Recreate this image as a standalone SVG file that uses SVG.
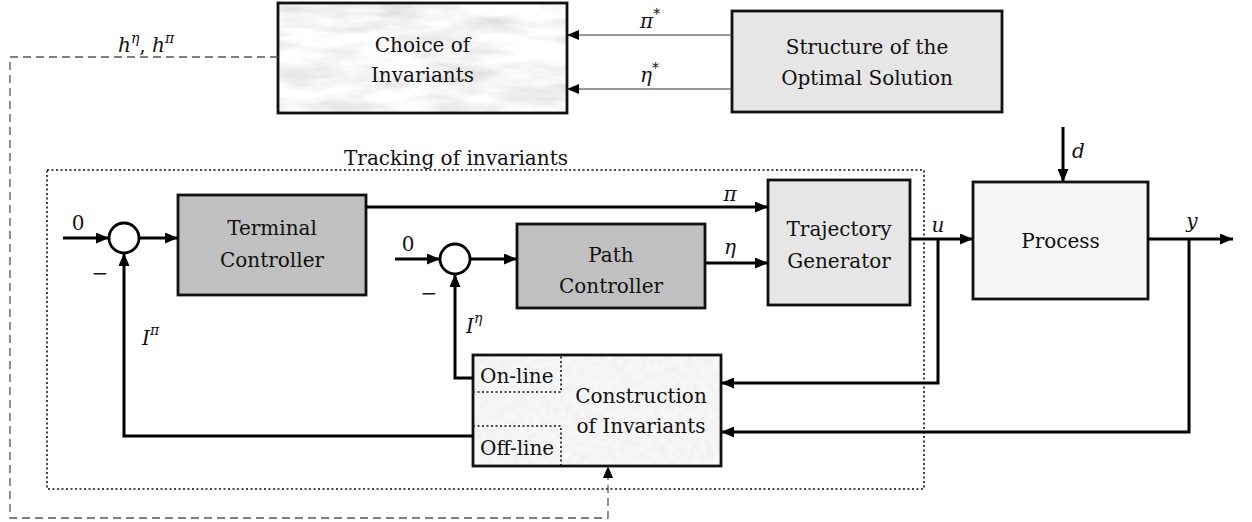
<svg xmlns="http://www.w3.org/2000/svg" width="1252" height="522" viewBox="0 0 1252 522" font-family="'DejaVu Serif', 'Liberation Serif', serif">
<style>
  text { font-family: "DejaVu Serif", "Liberation Serif", serif; font-size: 20px; fill: #111; }
  .c { text-anchor: middle; }
  .m { font-style: italic; }
  .sup { font-size: 14px; }
  .box { stroke: #111; stroke-width: 2.8; }
  .wire { fill: none; stroke: #000; stroke-width: 3; }
  .thin { fill: none; stroke: #333; stroke-width: 1.2; }
  .dash { fill: none; stroke: #555; stroke-width: 1.3; stroke-dasharray: 8 5; }
  .dot { fill: none; stroke: #111; stroke-width: 1.6; stroke-dasharray: 2 2.5; }
</style>
<defs>
  <marker id="ah" markerUnits="userSpaceOnUse" markerWidth="14" markerHeight="11" refX="13" refY="5.5" orient="auto">
    <path d="M0,0 L13,5.5 L0,11 z" fill="#000"/>
  </marker>
  <marker id="ahs" markerUnits="userSpaceOnUse" markerWidth="13" markerHeight="10" refX="12" refY="5" orient="auto">
    <path d="M0,0 L12,5 L0,10 z" fill="#000"/>
  </marker>
  <filter id="marble" x="0" y="0" width="100%" height="100%">
    <feTurbulence type="fractalNoise" baseFrequency="0.014 0.06" numOctaves="4" seed="7" result="n"/>
    <feColorMatrix in="n" type="matrix" values="0.6 0 0 0 0.62  0.6 0 0 0 0.62  0.6 0 0 0 0.62  0 0 0 0 1" result="g"/>
    <feComposite in="g" in2="SourceGraphic" operator="in"/>
  </filter>
  <filter id="speck" x="0" y="0" width="100%" height="100%">
    <feTurbulence type="fractalNoise" baseFrequency="0.15" numOctaves="2" seed="2" result="n"/>
    <feColorMatrix in="n" type="matrix" values="0.12 0 0 0 0.85  0.12 0 0 0 0.85  0.12 0 0 0 0.85  0 0 0 0 1" result="g"/>
    <feComposite in="g" in2="SourceGraphic" operator="in"/>
  </filter>
</defs>

<g id="tracking">
  <rect class="dot" x="47" y="170" width="877" height="319"/>
  <text class="c" x="456" y="165">Tracking of invariants</text>
</g>

<g id="choice">
  <rect x="278" y="3" width="289" height="110" fill="#eee" filter="url(#marble)"/>
  <rect class="box" x="278" y="3" width="289" height="110" fill="none"/>
  <text class="c" x="422.5" y="52">Choice of</text>
  <text class="c" x="422.5" y="82">Invariants</text>
</g>

<g id="structure">
  <rect class="box" x="732" y="11" width="270" height="101" fill="#e6e6e6"/>
  <text class="c" x="867" y="54">Structure of the</text>
  <text class="c" x="867" y="85">Optimal Solution</text>
</g>

<g id="sum1">
  <circle cx="124" cy="238" r="15" fill="#fff" stroke="#000" stroke-width="2.8"/>
</g>

<g id="terminal">
  <rect class="box" x="178" y="195" width="188" height="100" fill="#c0c0c0"/>
  <text class="c" x="272" y="235">Terminal</text>
  <text class="c" x="272" y="267">Controller</text>
</g>

<g id="sum2">
  <circle cx="455" cy="259" r="15" fill="#fff" stroke="#000" stroke-width="2.8"/>
</g>

<g id="path">
  <rect class="box" x="517" y="224" width="188" height="84" fill="#c0c0c0"/>
  <text class="c" x="611" y="262">Path</text>
  <text class="c" x="611" y="293">Controller</text>
</g>

<g id="trajectory">
  <rect class="box" x="768" y="180" width="142" height="125" fill="#e6e6e6"/>
  <text class="c" x="839" y="236">Trajectory</text>
  <text class="c" x="839" y="268">Generator</text>
</g>

<g id="process">
  <rect class="box" x="973" y="182" width="175" height="117" fill="#f6f6f6"/>
  <text class="c" x="1060.5" y="248">Process</text>
</g>

<g id="construction">
  <rect x="473" y="355" width="248" height="111" fill="#e8e8e8" filter="url(#speck)"/>
  <rect class="box" x="473" y="355" width="248" height="111" fill="none"/>
  <path class="dot" d="M473,392 H561 V355"/>
  <path class="dot" d="M473,426 H561 V466"/>
  <text x="480" y="383">On-line</text>
  <text x="480" y="455">Off-line</text>
  <text class="c" x="641" y="403">Construction</text>
  <text class="c" x="641" y="433">of Invariants</text>
</g>

<g id="connectors">
  <path class="thin" d="M732,35 H567" marker-end="url(#ahs)"/>
  <path class="thin" d="M732,89 H567" marker-end="url(#ahs)"/>
  <path class="dash" d="M278,57 H10 V518 H608 V466" marker-end="url(#ahs)"/>
  <path class="wire" d="M63,238 H109" marker-end="url(#ah)"/>
  <path class="wire" d="M139,238 H178" marker-end="url(#ah)"/>
  <path class="wire" d="M366,207 H768" marker-end="url(#ah)"/>
  <path class="wire" d="M395,259 H440" marker-end="url(#ah)"/>
  <path class="wire" d="M470,259 H517" marker-end="url(#ah)"/>
  <path class="wire" d="M705,263 H768" marker-end="url(#ah)"/>
  <path class="wire" d="M910,239 H973" marker-end="url(#ah)"/>
  <path class="wire" d="M1148,239 H1233" marker-end="url(#ah)"/>
  <path class="wire" d="M1063,127 V182" marker-end="url(#ah)"/>
  <path class="wire" d="M938,239 V383 H721" marker-end="url(#ah)"/>
  <path class="wire" d="M1189,239 V432 H721" marker-end="url(#ah)"/>
  <path class="wire" d="M473,378 H455 V274" marker-end="url(#ah)"/>
  <path class="wire" d="M473,436 H124 V253" marker-end="url(#ah)"/>
</g>

<g id="labels">
  <text x="118" y="52"><tspan class="m">h</tspan><tspan class="m sup" dy="-9">η</tspan><tspan dy="9">, </tspan><tspan class="m">h</tspan><tspan class="m sup" dy="-9">π</tspan></text>
  <text x="640" y="28"><tspan class="m">π</tspan><tspan class="sup" dy="-9">*</tspan></text>
  <text x="640" y="82"><tspan class="m">η</tspan><tspan class="sup" dy="-9">*</tspan></text>
  <text class="c" x="78" y="230">0</text>
  <text class="c" x="100" y="280">−</text>
  <text class="c" x="408" y="251">0</text>
  <text class="c" x="429" y="300">−</text>
  <text class="c m" x="730" y="201">π</text>
  <text class="c m" x="730" y="254">η</text>
  <text class="c m" x="938" y="232">u</text>
  <text class="c m" x="1192" y="228">y</text>
  <text class="m" x="1072" y="158">d</text>
  <text x="466" y="333"><tspan class="m">I</tspan><tspan class="m sup" dy="-10">η</tspan></text>
  <text x="142" y="345"><tspan class="m">I</tspan><tspan class="m sup" dy="-10">π</tspan></text>
</g>
</svg>
